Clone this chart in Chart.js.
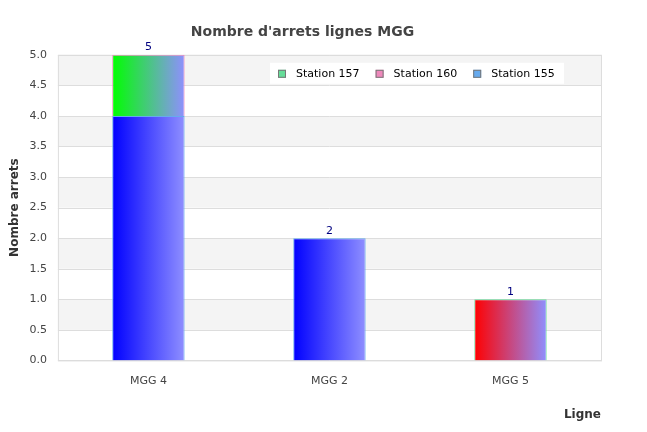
<!DOCTYPE html>
<html>
<head>
<meta charset="utf-8">
<script src="https://cdn.jsdelivr.net/npm/chart.js@4"></script>
<style>
  body { margin: 0; background: #fff; }
  #wrap { width: 647px; height: 432px; }
</style>
</head>
<body>
<div id="wrap"><canvas id="BarChart"></canvas></div>
<script>
var categories = ['MGG 4', 'MGG 2', 'MGG 5'];
var station155 = [4, 2, 0];
var station160 = [1, 0, 0];
var station157 = [0, 0, 1];
var yTicks = [0, 0.5, 1, 1.5, 2, 2.5, 3, 3.5, 4, 4.5, 5];
var legendNames = ['Station 157', 'Station 160', 'Station 155'];
var legendColors = ['#66dd99', '#ee88bb', '#66aaee'];

// gradient start colour per bar, each fades to a light blue-violet
function gradFill(starts) {
  return function (ctx) {
    var chart = ctx.chart, a = chart.chartArea, xs = chart.scales.x;
    if (!a || !xs) return starts[ctx.dataIndex];
    var cx = xs.getPixelForValue(ctx.dataIndex);
    var w = (a.right - a.left) / categories.length * 0.4;
    if (!isFinite(cx) || !isFinite(w)) return starts[ctx.dataIndex];
    var g = chart.ctx.createLinearGradient(cx - w / 2, 0, cx + w / 2, 0);
    g.addColorStop(0, starts[ctx.dataIndex]);
    g.addColorStop(1, '#8f8fff');
    return g;
  };
}

var bands = {
  id: 'bands',
  beforeDatasetsDraw: function (chart) {
    var c = chart.ctx, a = chart.chartArea, y = chart.scales.y;
    c.save();
    c.fillStyle = '#f4f4f4';
    for (var i = 1; i < yTicks.length - 1; i += 2) {
      var top = y.getPixelForValue(yTicks[i + 1]), bot = y.getPixelForValue(yTicks[i]);
      c.fillRect(a.left, top, a.right - a.left, bot - top);
    }
    c.strokeStyle = '#dddddd';
    c.lineWidth = 1;
    yTicks.forEach(function (v) {
      var p = Math.round(y.getPixelForValue(v)) + 0.5;
      c.beginPath(); c.moveTo(a.left, p); c.lineTo(a.right, p); c.stroke();
    });
    c.strokeRect(a.left + 0.5, a.top + 0.5, a.right - a.left, a.bottom - a.top);
    // legend box
    var lx = 270, ly = a.top + 8;
    c.fillStyle = '#ffffff';
    c.fillRect(lx, ly, 294, 21);
    c.font = '11px "DejaVu Sans"';
    c.textBaseline = 'middle';
    var px = lx + 8;
    legendNames.forEach(function (n, i) {
      c.fillStyle = legendColors[i];
      c.fillRect(px, ly + 7, 8, 8);
      c.strokeStyle = '#777';
      c.strokeRect(px + 0.5, ly + 7.5, 7, 7);
      c.fillStyle = '#000';
      c.fillText(n, px + 18, ly + 11);
      px += 18 + c.measureText(n).width + 16;
    });
    c.restore();
  },
  afterDatasetsDraw: function (chart) {
    var c = chart.ctx, y = chart.scales.y, x = chart.scales.x;
    c.save();
    c.fillStyle = '#000080';
    c.font = '11px "DejaVu Sans"';
    c.textAlign = 'center';
    c.textBaseline = 'bottom';
    categories.forEach(function (cat, i) {
      var total = station157[i] + station160[i] + station155[i];
      c.fillText(total, x.getPixelForValue(i), y.getPixelForValue(total) - 2);
    });
    c.restore();
  }
};

new Chart('BarChart', {
  type: 'bar',
  data: {
    labels: categories,
    datasets: [
      { label: 'Station 155', data: station155, backgroundColor: gradFill(['#0000ff', '#0000ff', '#0000ff']),
        borderColor: '#66aaee', borderWidth: 1 },
      { label: 'Station 160', data: station160, backgroundColor: gradFill(['#00ff00', '#00ff00', '#ff0000']),
        borderColor: '#ee88bb', borderWidth: 1 },
      { label: 'Station 157', data: station157, backgroundColor: gradFill(['#00ff00', '#00ff00', '#ff0000']),
        borderColor: '#66dd99', borderWidth: 1 }
    ]
  },
  plugins: [bands],
  options: {
    responsive: true,
    maintainAspectRatio: false,
    animation: false,
    layout: { padding: { top: 24, right: 46, bottom: 6, left: 4 } },
    datasets: { bar: { barPercentage: 0.4, categoryPercentage: 1 } },
    plugins: {
      title: { display: true, text: "Nombre d'arrets lignes MGG", color: '#444',
        font: { family: 'DejaVu Sans', size: 14, weight: 'bold' }, padding: { top: 0, bottom: 14 } },
      legend: { display: false },
      tooltip: { enabled: false }
    },
    scales: {
      x: {
        stacked: true,
        grid: { display: false },
        border: { display: false },
        ticks: { color: '#444', font: { family: 'DejaVu Sans', size: 11 }, padding: 6 },
        title: { display: true, text: 'Ligne', align: 'end', color: '#333',
          font: { family: 'DejaVu Sans', size: 12, weight: 'bold' }, padding: { top: 14 } }
      },
      y: {
        stacked: true,
        min: 0, max: 5,
        afterBuildTicks: function (s) { s.ticks = yTicks.map(function (v) { return { value: v }; }); },
        grid: { display: false },
        border: { display: false },
        ticks: { color: '#444', font: { family: 'DejaVu Sans', size: 11 },
          callback: function (v) { return v.toFixed(1); } },
        title: { display: true, text: 'Nombre arrets', color: '#333',
          font: { family: 'DejaVu Sans', size: 12, weight: 'bold' } }
      }
    }
  }
});
</script>
</body>
</html>
